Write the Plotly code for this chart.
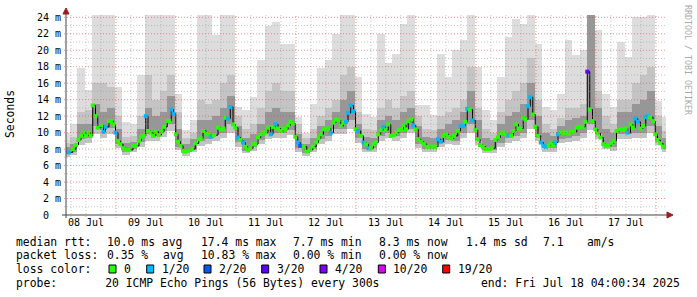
import pandas as pd
import plotly.graph_objects as go

START = pd.Timestamp("2025-07-08 00:00:00")

# ---------------- data ----------------
# median rtt samples: hours since 08 Jul 00:00, value (ms), lost pings out of 20
median_hours = [
    5.1, 6.7, 8.0, 9.0, 10.0, 11.0, 12.0, 13.0, 13.8, 14.7,
    15.8, 16.7, 18.0, 19.0, 19.8, 21.2, 22.1, 23.0, 23.8, 24.8,
    25.7, 26.8, 28.1, 29.2, 30.8, 31.9, 33.2, 34.1, 35.1, 35.9,
    36.8, 37.8, 38.8, 39.9, 41.1, 42.2, 43.2, 44.5, 45.3, 46.1,
    47.0, 47.9, 48.8, 49.8, 50.8,
    51.5, 52.8, 54.4, 55.7, 57.1, 57.9, 58.8, 60.2, 61.1, 61.9,
    63.2, 64.8, 65.9, 67.0, 67.7, 68.8, 69.7, 70.8, 71.7, 72.8,
    73.8, 74.8, 75.7, 76.8, 77.7, 78.8, 79.7, 80.8, 81.9, 82.8,
    83.7, 84.8, 85.9, 86.8, 87.7, 88.8, 89.9, 90.9, 91.9, 92.8,
    93.8, 94.7, 95.7, 96.7, 97.7, 99.1,
    100.3, 101.6, 102.7, 104.1, 105.0, 105.9, 107.0, 108.1, 109.0, 109.9,
    111.0, 112.0, 113.0, 113.9, 115.0, 116.0, 116.8, 117.9, 119.0, 119.8,
    120.8, 121.9, 123.0, 124.1, 125.0, 125.9, 127.0, 127.9, 128.9, 129.9,
    131.0, 131.8, 132.9, 133.9, 135.3, 136.1, 137.2, 138.1, 139.0, 140.0,
    140.9, 142.0, 142.8, 143.9, 144.9, 146.0, 147.1, 148.4,
    149.1, 150.7, 151.7, 152.8, 153.9, 154.9, 156.0, 157.0, 158.1, 159.2,
    160.7, 161.8, 162.9, 163.7, 164.5, 165.5, 166.6, 167.7, 168.7, 169.6,
    170.7, 171.9, 173.3, 174.3, 175.7, 176.8, 177.8, 178.9, 180.0, 181.0,
    182.1, 183.0, 184.0, 185.0, 185.8, 186.9, 187.7, 188.8, 189.7, 190.7,
    191.7, 192.8, 193.9, 194.9, 196.0, 197.1,
    197.9, 198.9, 199.7, 200.8, 201.9, 202.9, 204.0, 205.1, 206.1, 207.2,
    208.3, 209.3, 210.6, 211.7, 212.5, 213.5, 214.6, 215.7, 216.7, 217.8,
    218.9, 219.9, 221.0, 222.1, 223.1, 224.2, 225.5, 226.9, 227.9, 228.7,
    229.8, 230.7, 231.7, 232.7, 233.8, 234.8, 235.9, 236.9, 237.7, 238.8,
    239.7, 240.6, 241.7, 242.8,
]
median_ms = [
    7.6, 8.0, 8.5, 9.1, 9.6, 10.0, 9.6, 10.0, 9.6, 13.3,
    12.0, 10.6, 10.9, 10.1, 10.7, 11.4, 11.4, 11.0, 10.0, 9.0,
    8.6, 8.1, 7.9, 7.9, 8.4, 8.4, 9.0, 9.5, 9.6, 12.0,
    10.2, 10.0, 9.6, 10.1, 9.7, 10.1, 10.7, 11.4, 11.4, 12.8,
    12.3, 9.8, 8.9, 8.4, 7.8,
    7.7, 7.8, 8.0, 8.7, 9.2, 9.3, 10.2, 9.9, 9.8, 9.5,
    9.7, 10.6, 10.4, 10.5, 11.8, 11.7, 13.1, 11.0, 10.6, 9.4,
    9.1, 8.8, 8.3, 7.9, 8.1, 8.6, 8.6, 9.4, 9.8, 10.0,
    10.0, 10.6, 9.8, 10.7, 11.0, 10.5, 10.2, 10.5, 10.4, 10.9,
    11.3, 11.1, 9.5, 8.8, 8.4, 8.3,
    7.7, 7.9, 8.3, 8.8, 9.3, 9.8, 10.4, 10.5, 10.5, 10.0,
    11.2, 11.6, 11.5, 10.8, 11.2, 11.3, 12.4, 13.3, 12.6, 10.4,
    10.2, 9.6, 8.8, 8.6, 8.1, 8.1, 8.6, 8.8, 9.8, 10.3,
    10.7, 10.3, 11.0, 9.6, 9.7, 10.0, 10.3, 10.4, 10.9, 10.4,
    11.4, 11.6, 10.9, 10.4, 9.2, 8.9, 8.6, 8.3,
    8.3, 8.3, 8.3, 9.2, 8.9, 9.6, 9.8, 9.5, 9.3, 9.6,
    10.2, 10.8, 10.8, 11.3, 12.9, 12.8, 11.5, 10.3, 9.2, 8.5,
    8.3, 8.0, 8.0, 8.1, 9.1, 9.4, 9.9, 10.0, 9.8, 9.7,
    9.6, 10.2, 11.0, 10.5, 10.5, 11.8, 11.6, 13.2, 14.3, 12.2,
    10.7, 9.6, 8.8, 8.4, 8.3, 8.4,
    8.8, 8.5, 8.8, 9.8, 10.0, 10.0, 10.0, 9.9, 10.1, 10.1,
    10.6, 10.7, 10.7, 11.3, 17.4, 12.8, 11.4, 10.4, 9.9, 9.4,
    8.6, 8.4, 8.4, 8.7, 9.0, 10.2, 10.4, 10.4, 10.5, 10.0,
    11.0, 10.6, 11.7, 11.3, 10.5, 10.8, 11.9, 12.0, 11.9, 11.4,
    9.8, 9.1, 8.7, 8.3,
]
median_loss = [
    1, 0, 0, 0, 0, 0, 0, 0, 0, 0,
    0, 0, 0, 1, 1, 0, 0, 0, 1, 0,
    0, 0, 0, 0, 0, 0, 0, 0, 0, 1,
    0, 0, 0, 0, 0, 0, 0, 0, 0, 1,
    1, 0, 0, 0, 0,
    0, 0, 0, 0, 0, 0, 0, 0, 0, 1,
    0, 0, 0, 0, 0, 1, 1, 0, 0, 1,
    0, 1, 0, 0, 0, 0, 0, 0, 0, 0,
    0, 0, 1, 0, 1, 0, 0, 0, 0, 0,
    0, 0, 0, 1, 2, 0,
    0, 0, 0, 0, 0, 0, 0, 0, 0, 1,
    0, 0, 0, 0, 0, 1, 1, 1, 1, 0,
    1, 0, 1, 0, 1, 0, 0, 0, 0, 0,
    1, 0, 0, 0, 0, 0, 0, 0, 0, 0,
    0, 0, 1, 0, 0, 0, 0, 0,
    0, 0, 0, 1, 1, 0, 0, 0, 0, 0,
    0, 1, 1, 0, 1, 0, 1, 0, 0, 0,
    0, 0, 0, 0, 0, 0, 0, 0, 0, 1,
    0, 0, 0, 0, 0, 0, 0, 1, 1, 0,
    0, 0, 1, 1, 1, 0,
    0, 0, 1, 1, 0, 0, 0, 0, 0, 0,
    0, 0, 0, 0, 3, 0, 0, 0, 0, 0,
    0, 0, 0, 0, 0, 0, 0, 0, 0, 1,
    0, 0, 1, 1, 0, 0, 1, 1, 0, 0,
    0, 0, 0, 0,
]

# smoke (distribution of the 20 pings), sampled every 3 hours from 08 Jul 04:00
smoke_hours = list(range(4, 245, 3))
smoke_max = [
    9.9, 11.0, 17.8, 15.2, 24.3, 24.3, 24.3, 15.6, 11.3, 11.1, 17.0, 24.3, 24.3, 24.3, 24.3, 14.7,
    10.3, 11.5, 24.3, 24.3, 21.8, 24.3, 24.3, 13.1, 12.7, 14.3, 18.8, 23.0, 23.4, 20.8, 20.8, 11.9, 9.9,
    13.5, 17.8, 18.8, 22.0, 24.3, 24.3, 16.8, 12.3, 11.9, 22.0, 18.4, 19.6, 23.2, 24.3, 13.3, 13.3,
    12.1, 19.6, 16.8, 20.0, 21.2, 24.3, 18.0, 12.7, 11.5, 16.8, 21.6, 23.8, 23.2, 24.3, 20.8, 13.1, 12.7,
    14.7, 21.2, 19.4, 20.0, 24.3, 22.4, 14.7, 13.1, 21.0, 19.2, 24.0, 24.0, 24.3, 13.9, 11.9,
]
smoke_p90 = [
    8.8, 9.5, 12.5, 12.7, 16.0, 16.0, 15.5, 12.0, 9.5, 9.6, 12.0, 17.0, 14.0, 15.0, 17.0, 12.5,
    9.4, 10.0, 14.0, 13.5, 14.0, 16.0, 17.0, 12.0, 10.5, 11.0, 13.0, 15.0, 16.0, 15.0, 15.0, 11.0, 9.3,
    10.5, 12.0, 13.0, 14.0, 17.0, 18.0, 12.5, 10.5, 10.3, 13.0, 14.0, 13.0, 14.5, 15.0, 12.0, 10.5,
    10.3, 12.0, 12.5, 13.0, 14.0, 18.0, 13.0, 10.5, 10.0, 12.5, 14.0, 15.0, 16.0, 19.0, 14.0, 11.0, 10.5,
    11.8, 13.0, 13.0, 13.5, 24.3, 15.0, 12.0, 11.0, 14.0, 14.0, 16.0, 17.0, 18.0, 12.0, 10.2,
]
smoke_p75 = [
    8.2, 8.6, 11.0, 11.0, 13.5, 12.5, 13.0, 10.5, 8.7, 8.9, 10.5, 13.0, 12.0, 12.5, 14.5, 10.5,
    8.6, 9.2, 11.5, 11.5, 12.0, 13.0, 14.5, 10.8, 9.3, 9.8, 11.0, 12.5, 13.0, 12.5, 12.5, 9.8, 8.6,
    9.3, 10.8, 11.5, 12.5, 14.0, 15.0, 11.0, 9.5, 9.4, 11.5, 12.0, 11.5, 12.5, 13.0, 10.8, 9.5,
    9.4, 10.5, 11.0, 11.5, 12.5, 15.0, 11.5, 9.4, 9.1, 11.0, 12.0, 12.5, 13.5, 16.0, 12.0, 9.9, 9.6,
    10.8, 11.5, 11.8, 12.0, 24.3, 13.0, 10.5, 10.0, 12.5, 12.5, 13.5, 14.0, 15.0, 10.8, 9.3,
]
smoke_p25 = [
    7.4, 7.7, 9.2, 9.3, 10.8, 10.3, 10.6, 8.6, 7.7, 8.0, 8.9, 9.8, 9.6, 10.2, 11.0, 8.3,
    7.6, 8.0, 9.0, 9.2, 9.8, 10.0, 11.0, 8.9, 7.8, 8.2, 9.1, 9.8, 10.0, 9.9, 10.3, 8.1, 7.5,
    8.0, 9.2, 9.6, 10.5, 10.5, 11.5, 9.3, 8.0, 8.1, 9.6, 9.9, 9.6, 10.0, 10.5, 8.6, 8.0,
    8.0, 8.7, 9.1, 9.0, 9.9, 11.0, 9.0, 7.9, 7.9, 8.8, 9.3, 9.6, 10.0, 11.5, 9.5, 8.1, 8.1,
    9.2, 9.4, 9.6, 9.9, 11.0, 9.8, 8.4, 8.2, 9.8, 9.8, 10.0, 10.0, 10.8, 9.0, 8.0,
]
smoke_lo = [
    7.1, 7.3, 8.5, 8.7, 9.8, 9.3, 9.8, 8.1, 7.3, 7.6, 8.3, 9.0, 9.0, 9.5, 10.2, 7.9,
    7.2, 7.6, 8.4, 8.6, 9.0, 9.3, 10.0, 8.3, 7.5, 7.8, 8.6, 9.2, 9.4, 9.4, 9.7, 7.7, 7.2,
    7.6, 8.6, 9.0, 9.8, 9.8, 10.5, 8.8, 7.6, 7.7, 9.0, 9.3, 9.0, 9.4, 9.9, 8.1, 7.7,
    7.6, 8.2, 8.6, 8.5, 9.3, 10.0, 8.5, 7.5, 7.5, 8.3, 8.7, 9.0, 9.4, 10.5, 9.0, 7.7, 7.7,
    8.7, 8.9, 9.0, 9.3, 10.3, 9.2, 8.0, 7.8, 9.2, 9.2, 9.4, 9.4, 10.0, 8.5, 7.6,
]

loss_labels = ["0", "1/20", "2/20", "3/20", "4/20", "10/20", "19/20"]
loss_counts = [0, 1, 2, 3, 4, 10, 19]
loss_colors = ["#26ff00", "#00b8ff", "#0059ff", "#5e00ff", "#7e00ff", "#dd00ff", "#ff0000"]

day_labels = ["08 Jul", "09 Jul", "10 Jul", "11 Jul", "12 Jul",
              "13 Jul", "14 Jul", "15 Jul", "16 Jul", "17 Jul"]
y_ticks = [0, 2, 4, 6, 8, 10, 12, 14, 16, 18, 20, 22, 24]
y_tick_labels = ["0\u00a0\u00a0"] + [f"{v}\u00a0m" for v in y_ticks[1:]]

assert len(median_hours) == len(median_ms) == len(median_loss)
assert len(smoke_hours) == len(smoke_max) == len(smoke_p90) == len(smoke_p75) == len(smoke_p25) == len(smoke_lo)

# ---------------- geometry helpers (layout only) ----------------
L, R, T, B = 66, 31, 15, 82
W, H = 697, 297
PW, PH = W - L - R, H - T - B
Y_MAX = 24.28
H0, H1 = 4, 244


def X(px):
    return (px - L) / PW


def Y(py):
    return (T + PH - py) / PH


MONO = "DejaVu Sans Mono"

# ---------------- figure ----------------
fig = go.Figure()

t_smoke = [START + pd.Timedelta(hours=h) for h in smoke_hours]
bar_w = 3 * 3600 * 1000


def band(lower, upper, color):
    fig.add_trace(go.Bar(
        x=t_smoke, y=[u - l for l, u in zip(lower, upper)], base=lower,
        width=bar_w, marker=dict(color=color, line=dict(width=0)),
        hoverinfo="skip", showlegend=False))


band(smoke_lo, smoke_max, "#dddddd")
band(smoke_lo, smoke_p90, "#c4c4c4")
band(smoke_p25, smoke_p75, "#979797")


def loss_color(n):
    col = loss_colors[0]
    for c, k in zip(loss_colors, loss_counts):
        if n >= k:
            col = c
    return col


t_med = [START + pd.Timedelta(hours=h) for h in median_hours]
fig.add_trace(go.Scatter(x=t_med, y=median_ms, mode="lines",
                         line=dict(color="#000000", width=1, shape="hv"),
                         hoverinfo="skip", showlegend=False))
fig.add_trace(go.Scatter(x=t_med, y=median_ms, mode="markers",
                         marker=dict(symbol="square", size=4,
                                     color=[loss_color(n) for n in median_loss],
                                     line=dict(width=0)),
                         showlegend=False))

shapes = []
GRID_MAJ = "rgba(230,60,60,0.55)"
GRID_MIN = "rgba(150,150,150,0.5)"
# vertical grid every 6 h (red at midnight)
for h in range(6, H1, 6):
    xp = (h - H0) / (H1 - H0)
    major = h % 24 == 0
    shapes.append(dict(type="line", xref="paper", yref="paper", x0=xp, x1=xp,
                       y0=-3 / PH if major else -2 / PH, y1=1, layer="above",
                       line=dict(color=GRID_MAJ if major else GRID_MIN, width=1, dash="1px,2px")))
# horizontal grid every 1 ms (red at even values)
for v in range(1, 25):
    yp = v / Y_MAX
    major = v % 2 == 0
    shapes.append(dict(type="line", xref="paper", yref="paper", x0=-2 / PW,
                       x1=1, y0=yp, y1=yp, layer="above",
                       line=dict(color=GRID_MAJ if major else GRID_MIN, width=1, dash="1px,2px")))
# axes lines
AX = "#444444"
shapes.append(dict(type="line", xref="paper", yref="paper", x0=X(62), x1=X(668), y0=0, y1=0,
                   line=dict(color=AX, width=1), layer="above"))
shapes.append(dict(type="line", xref="paper", yref="paper", x0=0, x1=0, y0=Y(218), y1=Y(13),
                   line=dict(color=AX, width=1), layer="above"))
ARW = "#9b1c1c"
shapes.append(dict(type="path", xref="paper", yref="paper", layer="above",
                   path=f"M {X(667)},{Y(212)} L {X(673)},{Y(215)} L {X(667)},{Y(218)} Z",
                   fillcolor=ARW, line=dict(color=ARW, width=1)))
shapes.append(dict(type="path", xref="paper", yref="paper", layer="above",
                   path=f"M {X(63)},{Y(14)} L {X(66)},{Y(8)} L {X(69)},{Y(14)} Z",
                   fillcolor=ARW, line=dict(color=ARW, width=1)))

# loss colour legend squares
sq_left = [109, 146.7, 204, 261.7, 320, 378.3, 442.7]
for c, x0 in zip(loss_colors, sq_left):
    shapes.append(dict(type="rect", xref="paper", yref="paper",
                       x0=X(x0), x1=X(x0 + 7), y0=Y(273), y1=Y(265),
                       fillcolor=c, line=dict(color="#000000", width=1)))

annotations = []


def txt(px, py, s, size=11.4, anchor="left", color="#000000", angle=0):
    annotations.append(dict(xref="paper", yref="paper", x=X(px), y=Y(py), text=s.replace(" ", "\u00a0"),
                            showarrow=False, xanchor=anchor, yanchor="middle", textangle=angle,
                            borderpad=0, borderwidth=0,
                            font=dict(family=MONO, size=size, color=color)))


# y-axis title and watermark
txt(10, 114, "Seconds", anchor="center", angle=-90)
txt(688, 60, "RRDTOOL / TOBI OETIKER", size=8.3, anchor="center", color="#aaaaaa", angle=90)

R1, R2, R3, R4 = 241.7, 255.0, 269.3, 282.7
txt(16, R1, "median rtt:")
txt(107.3, R1, "10.0 ms avg")
txt(201, R1, "17.4 ms max")
txt(293.3, R1, "7.7 ms min")
txt(379.3, R1, "8.3 ms now")
txt(465.7, R1, "1.4 ms sd")
txt(542.7, R1, "7.1")
txt(586.7, R1, "am/s")

txt(16, R2, "packet loss:")
txt(107.3, R2, "0.35 %")
txt(163.3, R2, "avg")
txt(201, R2, "10.83 % max")
txt(293.3, R2, "0.00 % min")
txt(379.3, R2, "0.00 % now")

txt(16, R3, "loss color:")
for lab, x0 in zip(loss_labels, sq_left):
    txt(x0 + 15, R3, lab)

txt(16, R4, "probe:       20 ICMP Echo Pings (56 Bytes) every 300s")
txt(680, R4, "end: Fri Jul 18 04:00:34 2025", anchor="right")

fig.update_layout(
    width=W, height=H, margin=dict(l=L, r=R, t=T, b=B, pad=0),
    paper_bgcolor="#ffffff", plot_bgcolor="#ffffff",
    barmode="overlay", bargap=0, showlegend=False,
    shapes=shapes, annotations=annotations,
    xaxis=dict(type="date", range=[START + pd.Timedelta(hours=H0), START + pd.Timedelta(hours=H1)],
               tickmode="array",
               tickvals=[START + pd.Timedelta(hours=12 + 24 * i) for i in range(len(day_labels))],
               ticktext=day_labels, ticks="", showgrid=False, zeroline=False, showline=False,
               tickfont=dict(family=MONO, size=10, color="#000000"), fixedrange=True),
    yaxis=dict(range=[0, Y_MAX], tickmode="array", tickvals=y_ticks, ticktext=y_tick_labels,
               ticks="", showgrid=False, zeroline=False, showline=False, ticklabelstandoff=4,
               tickfont=dict(family=MONO, size=10, color="#000000"), fixedrange=True),
)

fig.write_html("out.html")
